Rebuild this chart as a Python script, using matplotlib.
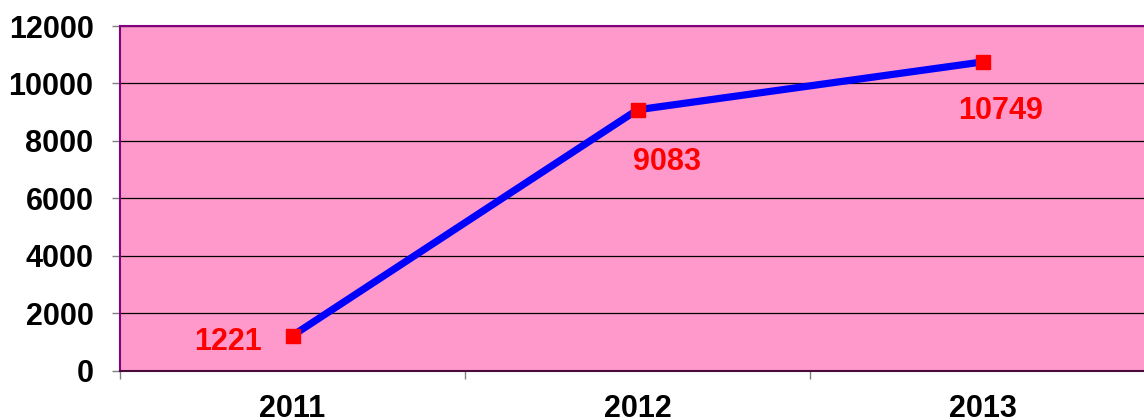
import matplotlib.pyplot as plt
from matplotlib.ticker import FixedLocator

years = ["2011", "2012", "2013"]
values = [1221, 9083, 10749]
y_ticks = [0, 2000, 4000, 6000, 8000, 10000, 12000]
# label offsets in pixels (dx, dy) relative to each point
label_offsets = [(-65, -6), (29, -52), (18, -49)]

plt.rcParams['font.family'] = ['Liberation Sans', 'DejaVu Sans']

fig = plt.figure(figsize=(11.44, 4.2), dpi=100)
ax = fig.add_axes([120 / 1144, (420 - 370.7) / 420, 1035 / 1144, 344.7 / 420])
ax.set_facecolor('#FF99CC')

x = list(range(len(years)))
ax.plot(x, values, color='#0000FF', linewidth=5.2, marker='s',
        markersize=10.5, markerfacecolor='#FF0000', markeredgecolor='#FF0000',
        zorder=3)

for xi, v, (dx, dy) in zip(x, values, label_offsets):
    ax.annotate(str(v), (xi, v), xytext=(dx, dy), textcoords='offset pixels',
                ha='center', va='center', color='#FF0000', fontsize=22,
                fontweight='bold', zorder=4)

ax.set_xlim(-0.5, 2.5)
ax.set_ylim(0, 12000)
ax.set_yticks(y_ticks)
ax.set_yticklabels([str(t) for t in y_ticks], fontsize=22, fontweight='bold')
ax.set_xticks(x)
ax.set_xticklabels(years, fontsize=22, fontweight='bold')
ax.xaxis.set_minor_locator(FixedLocator([-0.5, 0.5, 1.5, 2.5]))
ax.tick_params(axis='x', which='major', length=0, pad=17)
ax.tick_params(axis='x', which='minor', length=6, width=1, color='#808080')
ax.tick_params(axis='y', which='major', length=6, width=1, color='#808080', pad=13)

ax.grid(axis='y', color='black', linewidth=0.9)
ax.set_axisbelow(True)
for side in ['top', 'left', 'right']:
    ax.spines[side].set_color('#800080')
    ax.spines[side].set_linewidth(1.5)
ax.spines['bottom'].set_color('#4a0a3a')
ax.spines['bottom'].set_linewidth(1.5)

fig.savefig('out.png', dpi=100)
